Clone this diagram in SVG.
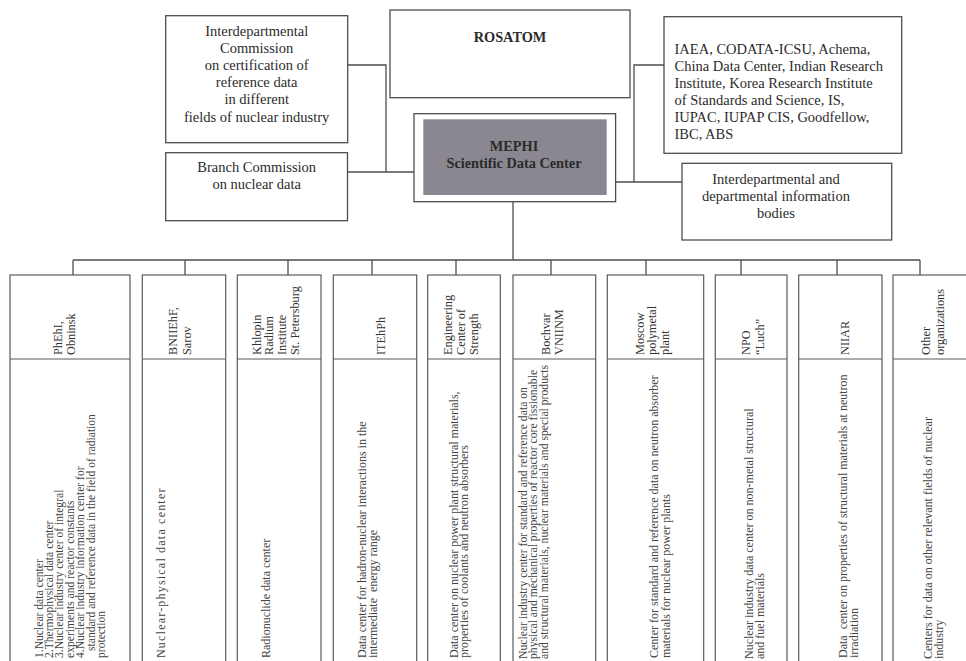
<svg xmlns="http://www.w3.org/2000/svg" width="966" height="661" viewBox="0 0 966 661">
<style>
.box{fill:#fff;stroke:#4d4d4d;stroke-width:1.3}
.col{fill:#fff;stroke:#5a5a5a;stroke-width:1.2}
.ln{fill:none;stroke:#4d4d4d;stroke-width:1.3}
.t{font-family:"Liberation Serif","Times New Roman",serif;font-size:14.5px;fill:#2b2b2b}
.tc{text-anchor:middle}
.b{font-weight:bold;font-size:14.3px}
.h{font-family:"Liberation Serif","Times New Roman",serif;font-size:12.3px;fill:#333}
.d{font-family:"Liberation Serif","Times New Roman",serif;font-size:12px;fill:#444}
</style>
<rect width="966" height="661" fill="#fff"/>
<g id="connectors">
<polyline class="ln" points="347.5,65 386,65 386,172"/>
<line class="ln" x1="347.5" y1="172" x2="414" y2="172"/>
<polyline class="ln" points="664,65 634,65 634,182"/>
<line class="ln" x1="615.5" y1="182" x2="682" y2="182"/>
<line class="ln" x1="513" y1="201.5" x2="513" y2="260"/>
<line class="ln" x1="73" y1="260" x2="920" y2="260"/>
<line class="ln" x1="73" y1="260" x2="73" y2="275"/>
<line class="ln" x1="185" y1="260" x2="185" y2="275"/>
<line class="ln" x1="288" y1="260" x2="288" y2="275"/>
<line class="ln" x1="372" y1="260" x2="372" y2="275"/>
<line class="ln" x1="456" y1="260" x2="456" y2="275"/>
<line class="ln" x1="551" y1="260" x2="551" y2="275"/>
<line class="ln" x1="646" y1="260" x2="646" y2="275"/>
<line class="ln" x1="741" y1="260" x2="741" y2="275"/>
<line class="ln" x1="837" y1="260" x2="837" y2="275"/>
<line class="ln" x1="920" y1="260" x2="920" y2="275"/>
</g>
<g id="interdep-commission">
<rect class="box" x="165.7" y="15.7" width="182" height="127"/>
<text class="t tc"><tspan x="256.7" y="36">Interdepartmental</tspan><tspan x="256.7" y="53.1">Commission</tspan><tspan x="256.7" y="70.2">on certification of</tspan><tspan x="256.7" y="87.3">reference data</tspan><tspan x="256.7" y="104.4">in different</tspan><tspan x="256.7" y="121.5">fields of nuclear industry</tspan></text>
</g>
<g id="rosatom">
<rect class="box" x="390" y="10" width="240" height="87.7"/>
<text class="t tc b" x="510" y="42">ROSATOM</text>
</g>
<g id="intl">
<rect class="box" x="664" y="16.7" width="237.7" height="136.6"/>
<text class="t"><tspan x="674.5" y="54">IAEA, CODATA-ICSU, Achema,</tspan><tspan x="674.5" y="71">China Data Center, Indian Research</tspan><tspan x="674.5" y="88">Institute, Korea Research Institute</tspan><tspan x="674.5" y="105">of Standards and Science, IS,</tspan><tspan x="674.5" y="122">IUPAC, IUPAP CIS, Goodfellow,</tspan><tspan x="674.5" y="139">IBC, ABS</tspan></text>
</g>
<g id="branch-commission">
<rect class="box" x="165.7" y="152.7" width="181.8" height="68"/>
<text class="t tc"><tspan x="256.7" y="171.5">Branch Commission</tspan><tspan x="256.7" y="189">on nuclear data</tspan></text>
</g>
<g id="mephi">
<rect class="box" x="414" y="113.7" width="201.6" height="88"/>
<rect x="423.3" y="119.3" width="183.4" height="75.7" fill="#8a8790"/>
<text class="t tc b" fill="#222"><tspan x="514" y="150.5">MEPHI</tspan><tspan x="514" y="167.8">Scientific Data Center</tspan></text>
</g>
<g id="info-bodies">
<rect class="box" x="682" y="163.3" width="209.7" height="76.7"/>
<text class="t tc"><tspan x="776" y="184">Interdepartmental and</tspan><tspan x="776" y="201">departmental information</tspan><tspan x="776" y="218">bodies</tspan></text>
</g>
<g id="col-phehi">
<rect class="col" x="10" y="275" width="120" height="400"/>
<line class="col" x1="10" y1="359" x2="130" y2="359"/>
<text class="h" transform="translate(62,355) rotate(-90)"><tspan x="0" y="0">PhEhI,</tspan><tspan x="0" y="12.8">Obninsk</tspan></text>
<text class="d" style="font-size:11.6px" transform="translate(42.5,658) rotate(-90)"><tspan x="0" y="0">1.Nuclear data center</tspan><tspan x="0" y="10.4">2.Thermophysical data center</tspan><tspan x="0" y="20.8">3.Nuclear industry center of integral</tspan><tspan x="0" y="31.2">experiments and reactor constants</tspan><tspan x="0" y="41.6">4.Nuclear industry information center for</tspan><tspan x="7" y="52">standard and reference data in the field of radiation</tspan><tspan x="0" y="62.4">protection</tspan></text>
</g>
<g id="col-bniiehf">
<rect class="col" x="142.3" y="275" width="83.4" height="400"/>
<line class="col" x1="142.3" y1="359" x2="225.7" y2="359"/>
<text class="h" transform="translate(177,355) rotate(-90)"><tspan x="0" y="0">BNIIEhF,</tspan><tspan x="0" y="13.5">Sarov</tspan></text>
<text class="d" style="letter-spacing:1.2px" transform="translate(165,658) rotate(-90)">Nuclear-physical data center</text>
</g>
<g id="col-khlopin">
<rect class="col" x="237.3" y="275" width="83.7" height="400"/>
<line class="col" x1="237.3" y1="359" x2="321" y2="359"/>
<text class="h" transform="translate(260.5,355) rotate(-90)"><tspan x="0" y="0">Khlopin</tspan><tspan x="0" y="12.8">Radium</tspan><tspan x="0" y="25.6">Institute</tspan><tspan x="0" y="38.4">St. Petersburg</tspan></text>
<text class="d" transform="translate(270,658) rotate(-90)">Radionuclide data center</text>
</g>
<g id="col-itehph">
<rect class="col" x="333.3" y="275" width="83.4" height="400"/>
<line class="col" x1="333.3" y1="359" x2="416.7" y2="359"/>
<text class="h" transform="translate(384.7,355) rotate(-90)">ITEhPh</text>
<text class="d" transform="translate(366,658) rotate(-90)"><tspan x="0" y="0">Data center for hadron-nuclear interactions in the</tspan><tspan x="0" y="10.6">intermediate&#160; energy range</tspan></text>
</g>
<g id="col-strength">
<rect class="col" x="427.7" y="275" width="72.6" height="400"/>
<line class="col" x1="427.7" y1="359" x2="500.3" y2="359"/>
<text class="h" transform="translate(452,355) rotate(-90)"><tspan x="0" y="0">Engineering</tspan><tspan x="0" y="13.2">Center of</tspan><tspan x="0" y="26.4">Strength</tspan></text>
<text class="d" transform="translate(458,658) rotate(-90)"><tspan x="0" y="0">Data center on nuclear power plant structural materials,</tspan><tspan x="0" y="10.4">properties of coolants and neutron absorbers</tspan></text>
</g>
<g id="col-bochvar">
<rect class="col" x="513" y="275" width="82.7" height="400"/>
<line class="col" x1="513" y1="359" x2="595.7" y2="359"/>
<text class="h" transform="translate(550,355) rotate(-90)"><tspan x="0" y="0">Bochvar</tspan><tspan x="0" y="12.8">VNIINM</tspan></text>
<text class="d" style="font-size:11.7px" transform="translate(527,659) rotate(-90)"><tspan x="0" y="0">Nuclear industry center for standard and reference data on</tspan><tspan x="0" y="10.4">physical and mechanical properties of reactor core fissionable</tspan><tspan x="0" y="20.8">and structural materials, nuclear materials and special products</tspan></text>
</g>
<g id="col-polymetal">
<rect class="col" x="607.3" y="275" width="96.4" height="400"/>
<line class="col" x1="607.3" y1="359" x2="703.7" y2="359"/>
<text class="h" transform="translate(643.5,355) rotate(-90)"><tspan x="0" y="0">Moscow</tspan><tspan x="0" y="12.8">polymetal</tspan><tspan x="0" y="25.6">plant</tspan></text>
<text class="d" transform="translate(658,658) rotate(-90)"><tspan x="0" y="0">Center for standard and reference data on neutron absorber</tspan><tspan x="0" y="11.5">materials for nuclear power plants</tspan></text>
</g>
<g id="col-luch">
<rect class="col" x="715.3" y="275" width="71.7" height="400"/>
<line class="col" x1="715.3" y1="359" x2="787" y2="359"/>
<text class="h" transform="translate(750.3,355) rotate(-90)"><tspan x="0" y="0">NPO</tspan><tspan x="0" y="13.8">“Luch”</tspan></text>
<text class="d" transform="translate(753,659) rotate(-90)"><tspan x="0" y="0">Nuclear industry data center on non-metal structural</tspan><tspan x="0" y="11.2">and fuel materials</tspan></text>
</g>
<g id="col-niiar">
<rect class="col" x="798.7" y="275" width="83.3" height="400"/>
<line class="col" x1="798.7" y1="359" x2="882" y2="359"/>
<text class="h" transform="translate(848.7,355) rotate(-90)">NIIAR</text>
<text class="d" transform="translate(847,658) rotate(-90)"><tspan x="0" y="0">Data&#160; center on properties of structural materials at neutron</tspan><tspan x="0" y="11">irradiation</tspan></text>
</g>
<g id="col-other">
<rect class="col" x="893" y="275" width="90" height="400"/>
<line class="col" x1="893" y1="359" x2="983" y2="359"/>
<text class="h" transform="translate(930,355) rotate(-90)"><tspan x="0" y="0">Other</tspan><tspan x="0" y="13.5">organizations</tspan></text>
<text class="d" transform="translate(932.3,659) rotate(-90)"><tspan x="0" y="0">Centers for data on other relevant fields of nuclear</tspan><tspan x="0" y="10.7">industry</tspan></text>
</g>
</svg>
